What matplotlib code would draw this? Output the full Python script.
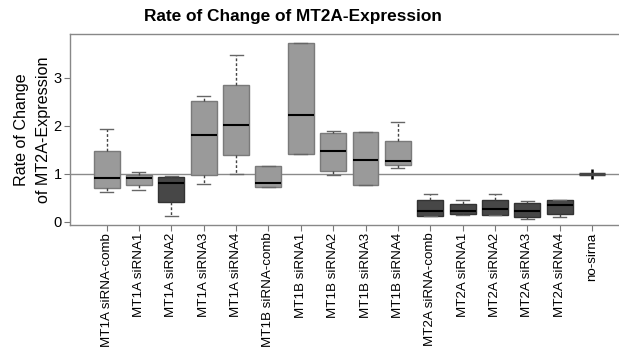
import matplotlib
matplotlib.use("Agg")
import matplotlib.pyplot as plt

plt.rcParams['font.family'] = ['Liberation Sans', 'DejaVu Sans']

# groups on the x axis
grupos = ['MT1A siRNA-comb', 'MT1A siRNA1', 'MT1A siRNA2', 'MT1A siRNA3', 'MT1A siRNA4',
          'MT1B siRNA-comb', 'MT1B siRNA1', 'MT1B siRNA2', 'MT1B siRNA3', 'MT1B siRNA4',
          'MT2A siRNA-comb', 'MT2A siRNA1', 'MT2A siRNA2', 'MT2A siRNA3', 'MT2A siRNA4',
          'no-sirna']

# box statistics
whis_low = [0.62, 0.66, 0.11, 0.79, 1.00, 0.72, 1.41, 0.98, 0.77, 1.11,
            0.11, 0.13, 0.135, 0.05, 0.09, 0.88]
q1 = [0.71, 0.77, 0.40, 0.98, 1.39, 0.72, 1.41, 1.06, 0.77, 1.18,
      0.11, 0.16, 0.135, 0.09, 0.155, 1.00]
mediana = [0.915, 0.915, 0.80, 1.80, 2.01, 0.81, 2.23, 1.48, 1.29, 1.27,
           0.23, 0.23, 0.26, 0.23, 0.34, 1.00]
q3 = [1.48, 0.98, 0.92, 2.51, 2.85, 1.16, 3.72, 1.85, 1.87, 1.68,
      0.45, 0.36, 0.46, 0.39, 0.445, 1.00]
whis_high = [1.94, 1.03, 0.95, 2.61, 3.47, 1.16, 3.72, 1.89, 1.87, 2.07,
             0.58, 0.46, 0.58, 0.44, 0.46, 1.12]

# which boxes are dark
escuro = [False, False, True, False, False, False, False, False, False, False,
          True, True, True, True, True, True]

stats = []
for i in range(len(grupos)):
    stats.append({'whislo': whis_low[i], 'q1': q1[i], 'med': mediana[i],
                  'q3': q3[i], 'whishi': whis_high[i], 'fliers': []})

fig = plt.figure(figsize=(6.19, 3.51), dpi=100)
ax = fig.add_axes([70 / 619, 1 - 225 / 351, 1 - 70 / 619, (225 - 34) / 351])

# reference line at 1
ax.axhline(1, color='#8a8a8a', lw=1, zorder=1)

posicoes = list(range(1, len(grupos) + 1))
bp = ax.bxp(stats, positions=posicoes, widths=0.8, capwidths=0.4,
            patch_artist=True, showfliers=False,
            medianprops=dict(color='black', lw=1.5),
            whiskerprops=dict(color='#444444', lw=1, linestyle=(0, (2, 1.5))),
            capprops=dict(color='#666666', lw=1),
            boxprops=dict(lw=1))

for i, caixa in enumerate(bp['boxes']):
    if escuro[i]:
        caixa.set_facecolor('#474747')
        caixa.set_edgecolor('#333333')
    else:
        caixa.set_facecolor('#9a9a9a')
        caixa.set_edgecolor('#7a7a7a')
    caixa.set_zorder(2)

# no-sirna is just a flat line
bp['medians'][-1].set_color('#444444')
bp['medians'][-1].set_linewidth(2.5)
for w in bp['whiskers'][-2:]:
    w.set_color('black')
    w.set_linewidth(1.8)
for c in bp['caps'][-2:]:
    c.set_visible(False)

ax.set_xlim(-0.13, 16.83)
ax.set_ylim(-0.07, 3.91)
ax.set_xticks(posicoes)
ax.set_xticklabels(grupos, rotation=90, fontsize=9.6)
ax.set_yticks([0, 1, 2, 3])
ax.tick_params(axis='y', labelsize=10.5, length=4, color='#777777', pad=2)
ax.tick_params(axis='x', length=4, color='#777777', pad=1.5)

for lado in ['left', 'top', 'bottom']:
    ax.spines[lado].set_color('#888888')
    ax.spines[lado].set_linewidth(1)
ax.spines['right'].set_visible(False)

ax.set_ylabel('Rate of Change\nof MT2A-Expression', fontsize=11.6, linespacing=1.55, labelpad=2)

fig.text(0.473, 0.952, 'Rate of Change of MT2A-Expression', ha='center', va='center',
         fontsize=12.4, fontweight='bold')

fig.savefig('out.png', dpi=100)
